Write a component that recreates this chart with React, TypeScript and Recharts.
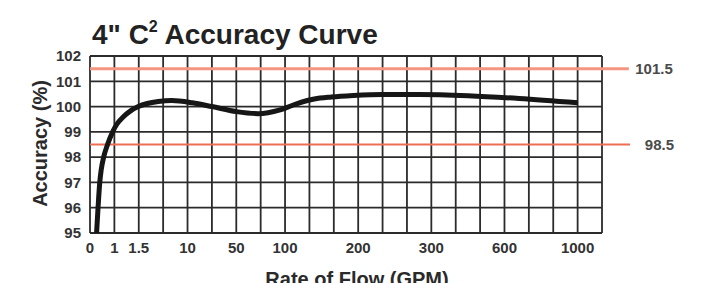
import { LineChart, Line, XAxis, YAxis, CartesianGrid, ReferenceLine } from 'recharts';

// curve points: x is the grid column (the flow scale is not linear), y is accuracy in %
const flowPos = [0.27, 0.33, 0.4, 0.46, 0.56, 0.72, 0.93, 1.1, 1.37, 1.65, 1.98, 2.35, 2.8, 3.35, 4.2, 5.0, 6.0, 6.9, 7.8, 8.5, 9.2, 9.9, 10.8, 12.0, 13.5, 15.5, 17.6, 20.0];
const accuracy = [95.0, 96.0, 97.0, 97.5, 98.0, 98.5, 99.0, 99.3, 99.6, 99.82, 100.0, 100.12, 100.2, 100.24, 100.15, 100.0, 99.8, 99.72, 99.87, 100.12, 100.3, 100.38, 100.44, 100.48, 100.48, 100.43, 100.32, 100.15];

// one vertical grid line per column, only some of them carry a GPM label
const gridCols = [0, 1, 2, 3, 4, 5, 6, 7, 8, 9, 10, 11, 12, 13, 14, 15, 16, 17, 18, 19, 20, 21];
const tickPos = [0, 1, 2, 4, 6, 8, 11, 14, 17, 20];
const tickLabels = ['0', '1', '1.5', '10', '50', '100', '200', '300', '600', '1000'];
const yTicks = [95, 96, 97, 98, 99, 100, 101, 102];

const upperLimit = 101.5;
const lowerLimit = 98.5;

const data = flowPos.map((x, i) => ({ x, acc: accuracy[i] }));

const FONT = '"Liberation Sans", Arial, Helvetica, sans-serif';

const fmtX = (v: number) => {
  const i = tickPos.indexOf(v);
  return i >= 0 ? tickLabels[i] : '';
};

const YTitle = ({ viewBox }: any) => {
  const cx = viewBox.x + 40;
  const cy = viewBox.y + viewBox.height / 2 - 1;
  return (
    <text x={cx} y={cy} transform={`rotate(-90 ${cx} ${cy})`} textAnchor="middle" dominantBaseline="central"
      fontFamily={FONT} fontWeight={700} fontSize={20} fill="#2a2a2a">
      Accuracy (%)
    </text>
  );
};

// the reference cuts this title off at the bottom edge, so it stays where it is
const XTitle = ({ viewBox }: any) => (
  <text x={viewBox.x + viewBox.width / 2 + 11} y={viewBox.y + 53} textAnchor="middle"
    fontFamily={FONT} fontWeight={700} fontSize={20} fill="#2a2a2a">
    Rate of Flow (GPM)
  </text>
);

const LimitLabel = ({ viewBox, value }: any) => (
  <text x={viewBox.x + viewBox.width + 44} y={viewBox.y} textAnchor="end" dominantBaseline="central"
    fontFamily={FONT} fontWeight={700} fontSize={15} fill="#4a4a4a">
    {value}
  </text>
);

export default function App() {
  const tickStyle = { fontFamily: FONT, fontWeight: 700, fontSize: 15, fill: '#333' };
  return (
    <div style={{ position: 'absolute', left: 0, top: 0, width: 723, height: 283, background: '#fff' }}>
      <div style={{
        position: 'absolute',
        left: 92,
        top: 21,
        fontFamily: FONT,
        fontWeight: 700,
        fontSize: 28,
        lineHeight: '28px',
        color: '#222',
        whiteSpace: 'nowrap',
      }}>
        4" C<span style={{ fontSize: 16, position: 'relative', top: -12 }}>2</span> Accuracy Curve
      </div>

      <LineChart width={723} height={283} data={data} margin={{ top: 56, right: 121, bottom: 0, left: 0 }}>
        <CartesianGrid stroke="#2b2b2b" strokeWidth={1.8} />
        <XAxis
          dataKey="x"
          type="number"
          domain={[0, 21]}
          ticks={gridCols}
          interval={0}
          tickFormatter={fmtX}
          axisLine={false}
          tickLine={false}
          tickSize={0}
          tickMargin={9}
          height={50}
          tick={tickStyle}
          label={(p: any) => <XTitle {...p} />}
        />
        <YAxis
          type="number"
          domain={[95, 102]}
          ticks={yTicks}
          interval={0}
          axisLine={false}
          tickLine={false}
          tickSize={0}
          tickMargin={9}
          width={90}
          tick={tickStyle}
          label={(p: any) => <YTitle {...p} />}
        />
        <ReferenceLine
          segment={[{ x: 0, y: upperLimit }, { x: 22.1, y: upperLimit }]}
          ifOverflow="visible"
          stroke="#f39580"
          strokeWidth={3}
          label={{ value: '101.5', content: LimitLabel }}
        />
        <ReferenceLine
          segment={[{ x: 0, y: lowerLimit }, { x: 22.15, y: lowerLimit }]}
          ifOverflow="visible"
          stroke="#ee6e55"
          strokeWidth={2}
          label={{ value: '98.5', content: LimitLabel }}
        />
        <Line
          dataKey="acc"
          type="monotone"
          stroke="#161616"
          strokeWidth={5}
          dot={false}
          activeDot={false}
          isAnimationActive={false}
        />
      </LineChart>
    </div>
  );
}
